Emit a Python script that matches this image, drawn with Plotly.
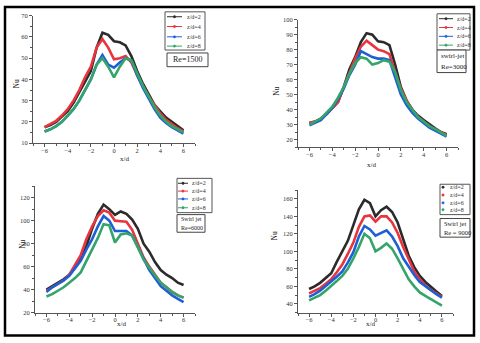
import plotly.graph_objects as go

# x/d positions shared by every curve
xd = [-6, -5.5, -5, -4.5, -4, -3.5, -3, -2.5, -2, -1.5, -1, -0.5, 0,
      0.5, 1, 1.5, 2, 2.5, 3, 3.5, 4, 4.5, 5, 5.5, 6]

labels = ["z/d=2", "z/d=4", "z/d=6", "z/d=8"]
colors = ["#2b2b2b", "#e8343c", "#1f5fd6", "#33a56a"]

# Re=1500
re1500_z2 = [17.5, 18.5, 20, 22.5, 25, 29, 34, 39, 44, 55, 62, 61, 58, 57.5, 56, 51, 44, 38, 33, 28, 25, 22, 20, 18, 16]
re1500_z4 = [17.5, 19, 20.5, 23, 26, 30, 35, 41, 46, 55, 59, 55, 49.5, 50, 51, 48, 42, 37, 32, 28, 24, 21, 19, 17, 15.5]
re1500_z6 = [15.5, 16.5, 18, 20, 23, 26, 30, 35, 40, 47, 51.5, 47, 45.5, 48, 50, 49, 42, 36, 31, 26, 22, 19.5, 17.5, 16, 14.5]
re1500_z8 = [15.5, 16.5, 18, 20, 23, 26, 30, 35, 40, 47, 50, 46, 41, 46, 50, 49, 43, 37, 32, 27, 23, 20, 18, 16.5, 15]

# Re=3000
re3000_z2 = [31, 32, 34, 37, 41, 45, 55, 67, 75, 85, 91, 90, 85.5, 85, 83, 70, 55, 46, 40, 36, 33, 30, 27.5, 25, 23.5]
re3000_z4 = [31, 32, 34, 37, 41, 45, 55, 65, 74, 82, 86, 83, 80, 79, 77, 65, 54, 46, 40, 35, 32, 29, 27, 25, 23]
re3000_z6 = [29.5, 31, 33, 37, 41, 47, 54, 63, 70, 79, 77, 75, 74, 74, 73, 62, 50, 43, 38, 34, 31, 28, 26, 24, 22]
re3000_z8 = [30, 32, 34, 38, 42, 48, 55, 64, 71, 75, 74, 70, 71, 73, 72, 65, 53, 45, 40, 35, 32, 29, 27, 25, 22.5]

# Re=6000
re6000_z2 = [40, 43, 46, 49, 53, 59, 67, 78, 93, 106, 114, 110, 105, 108, 106, 101, 93, 80, 73, 64, 57, 53, 50, 46, 44]
re6000_z4 = [39, 42, 45, 48, 53, 61, 70, 84, 95, 104, 109, 107, 100, 99.5, 99, 92, 80, 68, 60, 53, 46, 42, 38, 35, 33]
re6000_z6 = [38, 42, 45, 48, 52, 58, 65, 75, 84, 95, 104, 100, 91, 91, 91, 87, 77, 66, 57, 50, 43, 39, 35, 32, 29]
re6000_z8 = [34, 36, 39, 42, 46, 50, 55, 65, 75, 85, 97, 96, 81, 88, 89, 87, 77, 66, 59, 53, 46, 42, 38, 35, 33]

# Re=9000
re9000_z2 = [57, 60, 64, 69, 75, 88, 100, 112, 130, 148, 159, 155, 140, 147, 151, 145, 133, 115, 95, 82, 72, 65, 59, 54, 49]
re9000_z4 = [52, 55, 58, 63, 68, 76, 85, 97, 110, 128, 140, 141, 134, 140, 140, 133, 121, 105, 90, 77, 68, 61, 56, 52, 48]
re9000_z6 = [48, 51, 55, 60, 65, 71, 77, 87, 99, 117, 129, 125, 118, 121, 124, 117, 106, 92, 82, 73, 65, 60, 55, 51, 47]
re9000_z8 = [44, 47, 50, 55, 60, 66, 72, 80, 92, 105, 120, 115, 100, 104, 109, 103, 92, 80, 68, 60, 53, 49, 45, 42, 38]

W, H = 480, 343
def px(x):
    return x / W
def py(y):
    return 1 - y / H

panels = [
    dict(data=[re1500_z2, re1500_z4, re1500_z6, re1500_z8], box=(33, 195, 12, 142), yr=[10, 70], dt=10),
    dict(data=[re3000_z2, re3000_z4, re3000_z6, re3000_z8], box=(298, 458, 16, 146), yr=[15, 100], dt=10),
    dict(data=[re6000_z2, re6000_z4, re6000_z6, re6000_z8], box=(35, 195, 186, 315), yr=[20, 130], dt=20),
    dict(data=[re9000_z2, re9000_z4, re9000_z6, re9000_z8], box=(298, 453, 190, 315), yr=[30, 170], dt=20),
]

# legend boxes: (x0, x1, y0, y1, line x0, line x1, text x, row ys, markers only)
legends = [
    (165, 205, 8, 47, 167, 182, 185, [13, 23, 33.5, 43], False),
    (437, 470, 10, 47, 439, 453, 455, [15, 24, 33, 42], False),
    (177, 212, 178, 213, 178, 188, 190, [183, 191, 199, 208], False),
    (440, 470, 184, 215, 443, 443, 448, [187, 195, 203, 210], True),
]

# note boxes: (x0, x1, y0, y1, lines, font size, centred)
notes = [
    (167, 208, 50, 64, ["Re=1500"], 8, True),
    (437, 466, 47, 70, ["swirl-jet", "Re=3000"], 7, False),
    (177, 205, 215, 233, ["Swirl jet", "Re=6000"], 6, False),
    (440, 470, 219, 238, ["Swirl jet", "Re = 9000"], 6.5, False),
]

serif = "Liberation Serif"
fig = go.Figure()

for i, p in enumerate(panels):
    n = "" if i == 0 else str(i + 1)
    x0, x1, y0, y1 = p["box"]
    for lab, col, ys in zip(labels, colors, p["data"]):
        fig.add_trace(go.Scatter(x=xd, y=ys, mode="lines", name=lab, line=dict(color=col, width=2.6),
                                 xaxis="x" + n, yaxis="y" + n, showlegend=False))
    axis_common = dict(showline=True, linecolor="#555", linewidth=1, ticks="outside", ticklen=3,
                       tickcolor="#555", showgrid=False, zeroline=False,
                       tickfont=dict(family=serif, size=6.5, color="#333"))
    fig.layout["xaxis" + n] = dict(domain=[px(x0), px(x1)], range=[-7, 7], tickvals=[-6, -4, -2, 0, 2, 4, 6],
                                   minor=dict(ticks="outside", ticklen=2, dtick=1, tickcolor="#555"),
                                   anchor="y" + n, ticklabelstandoff=-2, **axis_common)
    fig.layout["yaxis" + n] = dict(domain=[py(y1), py(y0)], range=p["yr"], dtick=p["dt"],
                                   minor=dict(ticks="outside", ticklen=2, dtick=p["dt"] / 2, tickcolor="#555"),
                                   anchor="x" + n, **axis_common)

# legends drawn by hand so the rows can be as tight as in the original
for bx0, bx1, by0, by1, lx0, lx1, tx, rows, dots in legends:
    fig.add_shape(type="rect", xref="paper", yref="paper", x0=px(bx0), x1=px(bx1), y0=py(by1), y1=py(by0),
                  line=dict(color="#555", width=1), fillcolor="white")
    for lab, col, ry in zip(labels, colors, rows):
        if not dots:
            fig.add_shape(type="line", xref="paper", yref="paper", x0=px(lx0), x1=px(lx1), y0=py(ry), y1=py(ry),
                          line=dict(color=col, width=1))
        mx = (lx0 + lx1) / 2
        fig.add_shape(type="circle", xref="paper", yref="paper", x0=px(mx - 1.2), x1=px(mx + 1.2),
                      y0=py(ry + 1.2), y1=py(ry - 1.2), line=dict(color=col, width=0.5), fillcolor=col)
        fig.add_annotation(text=lab, x=px(tx), y=py(ry), xref="paper", yref="paper", xanchor="left",
                           yanchor="middle", showarrow=False, font=dict(family=serif, size=6, color="#333"))

for bx0, bx1, by0, by1, lines, size, centred in notes:
    fig.add_shape(type="rect", xref="paper", yref="paper", x0=px(bx0), x1=px(bx1), y0=py(by1), y1=py(by0),
                  line=dict(color="#444", width=1), fillcolor="white")
    step = (by1 - by0) / len(lines)
    for k, ln in enumerate(lines):
        yy = by0 + step * (k + 0.5)
        fig.add_annotation(text=ln, x=px((bx0 + bx1) / 2 if centred else bx0 + 1.5), y=py(yy),
                           xref="paper", yref="paper", xanchor="center" if centred else "left",
                           yanchor="middle", showarrow=False, font=dict(family=serif, size=size, color="#222"))

# axis titles
for x, y in [(10, 75), (277, 83), (16, 252), (275, 244)]:
    fig.add_annotation(text="Nu", x=px(x), y=py(y), xref="paper", yref="paper", textangle=-90,
                       showarrow=False, font=dict(family=serif, size=7.5, color="#222"))
for x, y in [(118, 158), (378, 164), (115, 333), (377, 333)]:
    fig.add_annotation(text="x/d", x=px(x), y=py(y), xref="paper", yref="paper",
                       showarrow=False, font=dict(family=serif, size=7, color="#222"))

# outer frame
fig.add_shape(type="rect", xref="paper", yref="paper", x0=px(5), x1=px(474), y0=py(338.5),
              y1=py(3), line=dict(color="black", width=2.5))

fig.update_layout(width=W, height=H, margin=dict(l=0, r=0, t=0, b=0),
                  paper_bgcolor="white", plot_bgcolor="white")
# drop the browser's default page margin so the figure sits at the window's corner
fig.write_html("out.html", config={"displayModeBar": False},
               post_script="document.body.style.margin='0';document.body.style.overflow='hidden';")
